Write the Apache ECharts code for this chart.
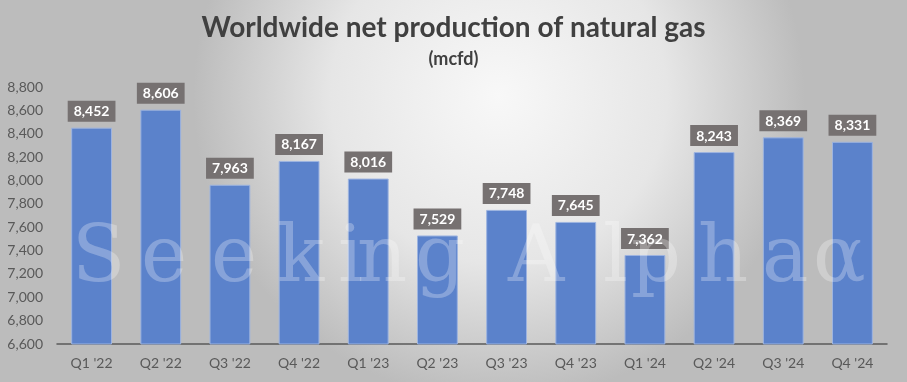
<!DOCTYPE html>
<html><head><meta charset="utf-8">
<script src="https://cdn.jsdelivr.net/npm/echarts@6/dist/echarts.min.js"></script>
<style>html,body{margin:0;padding:0;}#c{width:907px;height:382px;}</style>
</head><body><div id="c"></div>
<script>
var categories = ["Q1 '22","Q2 '22","Q3 '22","Q4 '22","Q1 '23","Q2 '23","Q3 '23","Q4 '23","Q1 '24","Q2 '24","Q3 '24","Q4 '24"];
var production = [8452,8606,7963,8167,8016,7529,7748,7645,7362,8243,8369,8331];
var yMin = 6600, yMax = 8800, yStep = 200;
var titleText = "Worldwide net production of natural gas";
var subtitleText = "(mcfd)";

var wmLetters = [["S",72],["e",141],["e",211],["k",277],["i",338],["n",357],["g",415],["A",508],["l",603],["p",631],["h",698],["a",762],["\u03b1",813]];
var wm = wmLetters.map(function(p){
  return {type:'text', left:p[1], top:222, z:50, silent:true,
    style:{text:p[0], font:'78px "DejaVu Serif", serif', fill:'rgba(255,255,255,0.27)'}};
});

var chart = echarts.init(document.getElementById('c'));
chart.setOption({
  backgroundColor: {type:'radial', x:0.55, y:0.25, r:0.8,
    colorStops:[{offset:0,color:'#f8f8f8'},{offset:0.55,color:'#e6e6e6'},{offset:1,color:'#bcbcbc'}]},
  title: [
    {text:titleText, left:'center', top:9, textStyle:{fontFamily:'Lato', fontWeight:'bold', fontSize:28, color:'#404040'}},
    {text:subtitleText, left:'center', top:45, textStyle:{fontFamily:'Lato', fontWeight:'bold', fontSize:18, color:'#404040'}}
  ],
  grid:{left:57, right:20, top:87, bottom:38},
  xAxis:{type:'category', data:categories,
    axisLine:{lineStyle:{color:'#595959', width:1.5}},
    axisTick:{show:false},
    axisLabel:{color:'#595959', fontFamily:'Lato', fontSize:14, margin:12}},
  yAxis:{type:'value', min:yMin, max:yMax, interval:yStep,
    splitLine:{show:false}, axisLine:{show:false}, axisTick:{show:false},
    axisLabel:{color:'#595959', fontFamily:'Lato', fontSize:14, margin:14,
      formatter:function(v){return v.toLocaleString('en-US');}}},
  series:[{type:'bar', data:production, barWidth:'59%',
    itemStyle:{color:'#5b82cb', borderColor:'#9db4e0', borderWidth:1},
    label:{show:true, position:'top', distance:6, color:'#ffffff', fontFamily:'Lato', fontWeight:'bold', fontSize:14,
      backgroundColor:'#767171', padding:[4,6,3,6],
      formatter:function(p){return p.value.toLocaleString('en-US');}}}],
  graphic: wm
});
</script></body></html>
